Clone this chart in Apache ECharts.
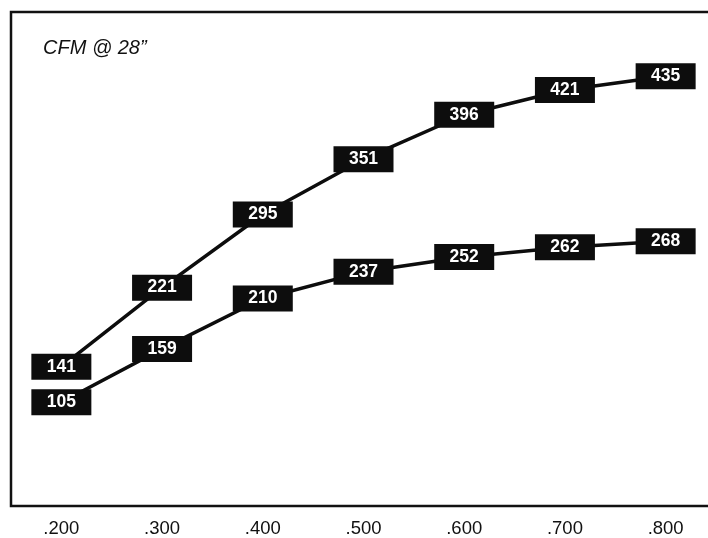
<!DOCTYPE html>
<html><head><meta charset="utf-8">
<script src="https://cdn.jsdelivr.net/npm/echarts@6/dist/echarts.min.js"></script>
<style>html,body{margin:0;padding:0;background:#fff}#c{width:708px;height:538px}</style>
</head><body><div id="c"></div>
<script>
const categories = ['.200', '.300', '.400', '.500', '.600', '.700', '.800'];
const upperValues = [141, 221, 295, 351, 396, 421, 435];
const lowerValues = [105, 159, 210, 237, 252, 262, 268];
const titleText = 'CFM @ 28\u201d';

const chart = echarts.init(document.getElementById('c'));
function mkSeries(data) {
  return {
    type: 'line', data: data,
    symbol: 'rect', symbolSize: [60, 26],
    itemStyle: { color: '#0d0d0d' },
    lineStyle: { color: '#0d0d0d', width: 3.5 },
    label: { show: true, position: 'inside', color: '#fff', fontWeight: 'bold',
             fontSize: 17.5, fontFamily: 'Liberation Sans, Arial, sans-serif' },
    emphasis: { disabled: true }, animation: false
  };
}
chart.setOption({
  animation: false,
  title: { text: titleText, left: 38, top: 33,
           textStyle: { fontStyle: 'italic', fontWeight: 'normal', fontSize: 20, color: '#111',
                        fontFamily: 'Liberation Sans, Arial, sans-serif' } },
  grid: { left: 11, width: 705, top: 12, height: 494, outerBoundsMode: 'none', containLabel: false,
          show: true, borderColor: '#111', borderWidth: 2.5, backgroundColor: '#fff' },
  xAxis: { type: 'category', data: categories, boundaryGap: true,
           axisLine: { show: false }, axisTick: { show: false }, splitLine: { show: false },
           axisLabel: { color: '#111', fontSize: 18.5, margin: 13, fontFamily: 'Liberation Sans, Arial, sans-serif' } },
  yAxis: { type: 'value', min: 0, max: 500, show: false },
  series: [mkSeries(upperValues), mkSeries(lowerValues)]
});
</script></body></html>
